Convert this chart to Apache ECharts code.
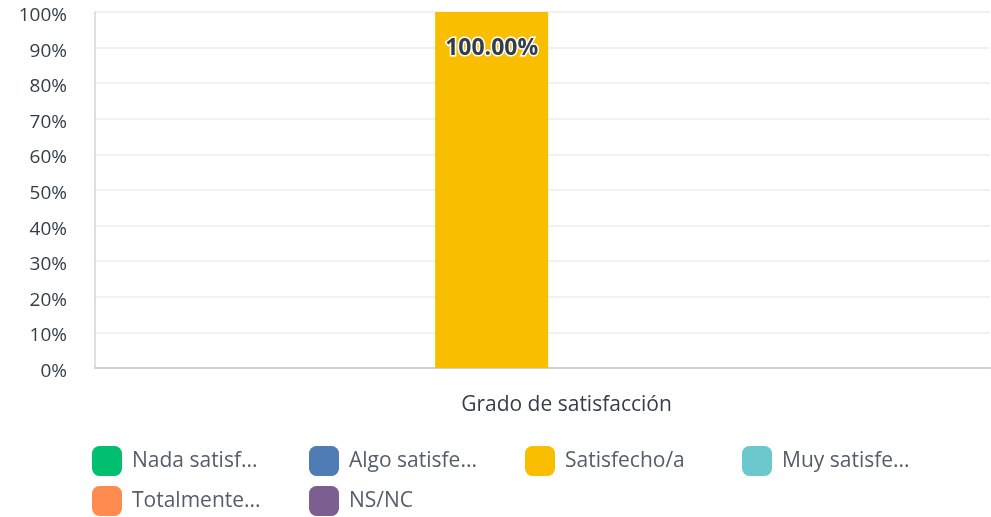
<!DOCTYPE html>
<html>
<head>
<meta charset="utf-8">
<script src="https://cdn.jsdelivr.net/npm/echarts@6/dist/echarts.min.js"></script>
<style>
  html, body { margin: 0; padding: 0; background: #fff; }
  #chart { width: 991px; height: 517px; }
</style>
</head>
<body>
<div id="chart"></div>
<script>
// datos
const categories = ["Grado de satisfacción"];
const seriesNames = ["Nada satisf...", "Algo satisfe...", "Satisfecho/a", "Muy satisfe...", "Totalmente...", "NS/NC"];
const seriesValues = [[0], [0], [100], [0], [0], [0]];
const colors = ["#00bf6f", "#507cb6", "#f9be00", "#6bc8cd", "#ff8b4f", "#7d5e90"];
const yTicks = [0, 10, 20, 30, 40, 50, 60, 70, 80, 90, 100];

const chart = echarts.init(document.getElementById("chart"));
const font = "'Open Sans', 'Noto Sans', sans-serif";

// leyenda en cuadrícula de 4 columnas: una leyenda por elemento
const legendCols = [92, 309, 525, 742];
const legendRows = [446, 486];
const legends = seriesNames.map((name, i) => ({
  left: legendCols[i % 4],
  top: legendRows[Math.floor(i / 4)],
  padding: 0,
  itemWidth: 30,
  itemHeight: 30,
  icon: "roundRect",
  selectedMode: false,
  data: [name],
  textStyle: {
    fontFamily: font,
    fontSize: 21,
    color: "#545e6b",
    padding: [0, 0, 0, 5]
  }
}));

const option = {
  color: colors,
  animation: false,
  grid: { left: 95, right: 1, top: 12, bottom: 149 },
  legend: legends,
  xAxis: {
    type: "category",
    data: categories,
    axisTick: { show: false },
    axisLine: { lineStyle: { color: "#d0d0d0", width: 2 } },
    axisLabel: {
      margin: 27,
      fontFamily: font,
      fontSize: 21,
      color: "#333e48",
      padding: [0, 0, 0, 48]
    }
  },
  yAxis: {
    type: "value",
    min: yTicks[0],
    max: yTicks[yTicks.length - 1],
    interval: 10,
    axisLine: { show: true, lineStyle: { color: "#d6d6d6", width: 1.5 } },
    axisTick: { show: false },
    splitLine: { lineStyle: { color: "#ececec", width: 1.5 } },
    axisLabel: {
      margin: 28,
      formatter: "{v|{value}%}",
      rich: {
        v: {
          fontFamily: font,
          fontSize: 19,
          color: "#333e48",
          padding: [7, 0, 0, 0]
        }
      }
    }
  },
  series: seriesNames.map((name, i) => ({
    name: name,
    type: "bar",
    data: seriesValues[i],
    barWidth: 113,
    barGap: "-10%",
    label: {
      show: true,
      position: "insideTop",
      distance: 25,
      fontFamily: font,
      fontSize: 23,
      fontWeight: "bold",
      color: "#333e48",
      textBorderColor: "#ffffff",
      textBorderWidth: 3,
      formatter: p => (p.value > 0 ? p.value.toFixed(2) + "%" : "")
    }
  }))
};

chart.setOption(option);
</script>
</body>
</html>
